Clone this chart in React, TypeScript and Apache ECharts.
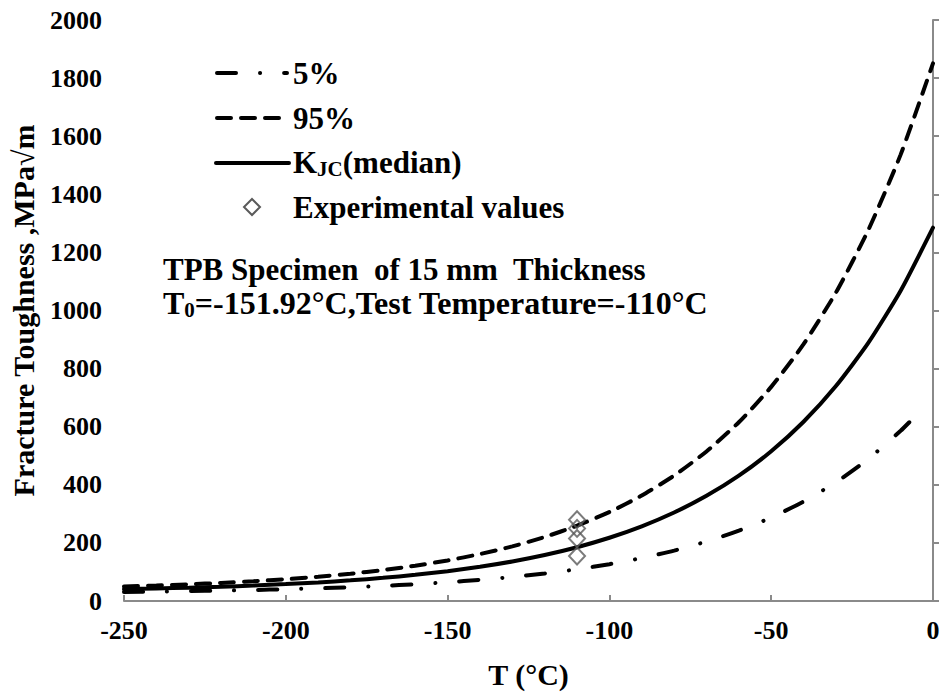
import React, { useEffect, useRef } from 'react';
import * as echarts from 'echarts';

const FONT = 'Liberation Serif, Times New Roman, serif';

// Temperatures (°C) at which the curves are read
const temps = [-250, -240, -230, -220, -210, -200, -190, -180, -170, -160, -150, -140, -130, -120, -110, -100, -90, -80, -70, -60, -50, -40, -30, -20, -10, 0];
// K_JC (median), MPa√m
const medianValues = [40.9, 43.1, 45.9, 49.2, 53.2, 58.1, 64.0, 71.1, 79.7, 90.0, 102.6, 117.8, 136.2, 158.4, 185.2, 217.7, 257.0, 304.5, 362.0, 431.4, 515.4, 617.0, 739.8, 888.3, 1068.0, 1285.0];
// 95% bound
const p95Values = [50.2, 53.5, 57.5, 62.3, 68.1, 75.1, 83.6, 93.9, 106.4, 121.4, 139.6, 161.6, 188.1, 220.3, 259.2, 306.2, 363.0, 431.7, 514.9, 615.4, 737.0, 884.0, 1061.7, 1276.6, 1536.6, 1850.7];
// 5% bound (drawn up to -5 °C)
const p5Temps = [-250, -240, -230, -220, -210, -200, -190, -180, -170, -160, -150, -140, -130, -120, -110, -100, -90, -80, -70, -60, -50, -40, -30, -20, -10, -5];
const p5Values = [31.3, 32.5, 34.0, 35.8, 37.9, 40.6, 43.7, 47.6, 52.2, 57.8, 64.6, 72.8, 82.7, 94.7, 109.2, 126.8, 148.0, 173.6, 204.7, 242.2, 287.5, 342.4, 408.7, 488.9, 585.9, 641.7];
// Experimental values at the test temperature
const expTemps = [-110, -110, -110, -110];
const expValues = [280, 250, 215, 155];

const xTicks = { min: -250, max: 0, interval: 50 };
const yTicks = { min: 0, max: 2000, interval: 200 };

const legendLabels = ['5%', '95%', '{a|K}{s|JC}{a|(median)}', 'Experimental values'];
const seriesNames = ['5%', '95%', 'KJC(median)', 'Experimental values'];

export default function App() {
  const ref = useRef<HTMLDivElement>(null);
  useEffect(() => {
    const chart = echarts.init(ref.current as HTMLDivElement, null, { renderer: 'svg' });
    const axisGray = '#8a8a8a';
    const tickLabel = { fontFamily: FONT, fontWeight: 'bold', fontSize: 26, color: '#000' };
    const richMain = { fontFamily: FONT, fontWeight: 'bold', fontSize: 31, lineHeight: 34, verticalAlign: 'middle', fill: '#000' };
    const richWide = { fontFamily: FONT, fontWeight: 'bold', fontSize: 32, lineHeight: 34, verticalAlign: 'middle', fill: '#000' };
    const richSub = { fontFamily: FONT, fontWeight: 'bold', fontSize: 21, lineHeight: 2, verticalAlign: 'bottom', fill: '#000' };

    const dash5 = [19, 24, 0.1, 24];
    const dash95 = [14, 10];

    const legendRowsY = [73, 118, 162, 207];
    const legendGraphic: any[] = [
      {
        type: 'line',
        shape: { x1: 217, y1: legendRowsY[0], x2: 287, y2: legendRowsY[0] },
        style: { stroke: '#000', lineWidth: 4, lineDash: dash5, lineCap: 'round' },
      },
      {
        type: 'line',
        shape: { x1: 217, y1: legendRowsY[1], x2: 279, y2: legendRowsY[1] },
        style: { stroke: '#000', lineWidth: 4, lineDash: dash95, lineCap: 'round' },
      },
      {
        type: 'line',
        shape: { x1: 216, y1: legendRowsY[2] + 1, x2: 289, y2: legendRowsY[2] + 1 },
        style: { stroke: '#000', lineWidth: 4, lineCap: 'round' },
      },
      {
        type: 'polygon',
        shape: { points: [[252, legendRowsY[3] - 8], [260, legendRowsY[3]], [252, legendRowsY[3] + 8], [244, legendRowsY[3]]] },
        style: { stroke: '#5a5a5a', lineWidth: 2, fill: 'rgba(255,255,255,0)' },
      },
      ...legendLabels.map((label, i) => ({
        type: 'text',
        x: 293,
        y: legendRowsY[i],
        style: {
          text: label,
          fontFamily: FONT,
          fontWeight: 'bold',
          fontSize: 31,
          fill: '#000',
          verticalAlign: 'middle',
          align: 'left',
          rich: { a: richMain, s: richSub },
        },
      })),
    ];

    chart.setOption({
      animation: false,
      backgroundColor: '#fff',
      grid: { left: 124, right: 11, top: 20, bottom: 95, containLabel: false },
      xAxis: {
        type: 'value',
        min: xTicks.min,
        max: xTicks.max,
        interval: xTicks.interval,
        name: 'T (°C)',
        nameLocation: 'middle',
        nameGap: 58,
        nameTextStyle: { fontFamily: FONT, fontWeight: 'bold', fontSize: 30, color: '#000' },
        axisLine: { show: true, onZero: false, lineStyle: { color: axisGray, width: 2 } },
        axisTick: { show: true, inside: true, length: 6, lineStyle: { color: axisGray, width: 2 } },
        axisLabel: { ...tickLabel, margin: 16, formatter: (v: number) => String(v) },
        splitLine: { show: false },
      },
      yAxis: {
        type: 'value',
        min: yTicks.min,
        max: yTicks.max,
        interval: yTicks.interval,
        name: 'Fracture Toughness ,MPa√m',
        nameLocation: 'middle',
        nameGap: 86,
        nameTextStyle: { fontFamily: FONT, fontWeight: 'bold', fontSize: 30, color: '#000' },
        axisLine: { show: true, lineStyle: { color: axisGray, width: 2 } },
        axisTick: { show: true, inside: true, length: 6, lineStyle: { color: axisGray, width: 2 } },
        axisLabel: { ...tickLabel, margin: 22, formatter: (v: number) => String(v) },
        splitLine: { show: false },
      },
      graphic: [
        ...legendGraphic,
        {
          type: 'text',
          x: 163,
          y: 252,
          style: {
            text: '{a|TPB Specimen  of 15 mm  Thickness}\n{b|T}{s|0}{b|=-151.92°C,Test Temperature=-110°C}',
            fill: '#000',
            rich: { a: richMain, b: richWide, s: richSub },
          },
        },
      ],
      series: [
        {
          name: seriesNames[0],
          type: 'line',
          data: p5Temps.map((t, i) => [t, p5Values[i]]),
          symbol: 'none',
          smooth: 0.2,
          color: '#000',
          lineStyle: { color: '#000', width: 4, type: dash5, cap: 'round' },
          z: 2,
        },
        {
          name: seriesNames[1],
          type: 'line',
          data: temps.map((t, i) => [t, p95Values[i]]),
          symbol: 'none',
          smooth: 0.2,
          color: '#000',
          lineStyle: { color: '#000', width: 4, type: dash95, cap: 'round' },
          z: 2,
        },
        {
          name: seriesNames[2],
          type: 'line',
          data: temps.map((t, i) => [t, medianValues[i]]),
          symbol: 'none',
          smooth: 0.2,
          color: '#000',
          lineStyle: { color: '#000', width: 4, type: 'solid', cap: 'round' },
          z: 2,
        },
        {
          name: seriesNames[3],
          type: 'scatter',
          data: expTemps.map((t, i) => [t, expValues[i]]),
          symbol: 'diamond',
          symbolSize: [16, 17],
          itemStyle: { color: 'rgba(255,255,255,0)', borderColor: '#5a5a5a', borderWidth: 2 },
          z: 5,
        },
      ],
    });
    return () => chart.dispose();
  }, []);
  return <div ref={ref} style={{ position: 'fixed', left: 0, top: 0, width: 944, height: 696 }} />;
}
